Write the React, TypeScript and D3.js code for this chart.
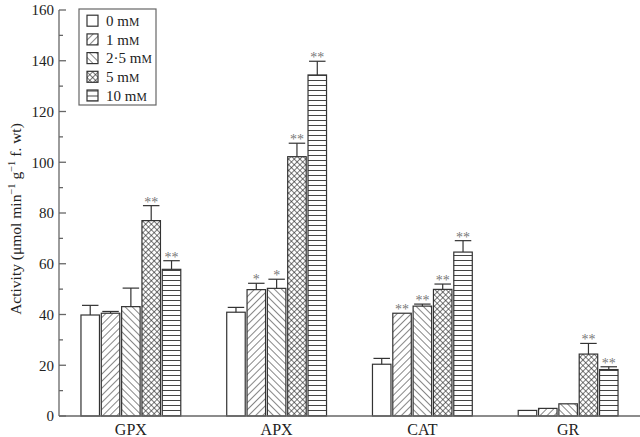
import * as d3 from "d3";

const width = 640;
const height = 437;
const marginTop = 10;
const marginBottom = 21;
const marginLeft = 59;

const enzymes = ["GPX", "APX", "CAT", "GR"];
const doses = ["0", "1", "2·5", "5", "10"];
const patterns = ["none", "fwd", "back", "cross", "horiz"];

// mean activity per dose, one entry per enzyme
const dose0 = [39.8, 40.9, 20.4, 2.2];
const dose1 = [40.5, 49.8, 40.5, 3.0];
const dose25 = [43.1, 50.3, 43.3, 4.8];
const dose5 = [77.0, 102.2, 49.9, 24.4];
const dose10 = [57.8, 134.4, 64.6, 18.3];

// upper end of error bars
const err0 = [43.6, 42.8, 22.7, 2.2];
const err1 = [41.2, 52.3, 40.7, 3.2];
const err25 = [50.4, 53.9, 44.1, 4.9];
const err5 = [82.9, 107.5, 52.0, 28.6];
const err10 = [61.2, 139.8, 69.1, 19.4];

// significance marks
const sig0 = ["", "", "", ""];
const sig1 = ["", "*", "**", ""];
const sig25 = ["", "*", "**", ""];
const sig5 = ["**", "**", "**", "**"];
const sig10 = ["**", "**", "**", "**"];

const yTicks = [0, 20, 40, 60, 80, 100, 120, 140, 160];
const yMinorTicks = [10, 30, 50, 70, 90, 110, 130, 150];

const values = [dose0, dose1, dose25, dose5, dose10];
const errors = [err0, err1, err25, err5, err10];
const sigs = [sig0, sig1, sig25, sig5, sig10];

const font = "'Liberation Serif', 'Times New Roman', serif";
const ink = "#333";
const axisColor = "#666";

const Unit = () => (
  <>
    m<tspan fontSize="0.78em">M</tspan>
  </>
);

const App = () => {
  const chartBottomY = height - marginBottom;

  const x = d3
    .scaleBand()
    .domain(enzymes)
    .range([marginLeft - 1, width + 1])
    .padding(0);

  const xInner = d3
    .scaleBand()
    .domain(doses)
    .range([0, x.bandwidth()])
    .paddingInner(0.09)
    .paddingOuter(1.13);

  const y = d3.scaleLinear().domain([0, 160]).range([chartBottomY, marginTop]);

  const bw = xInner.bandwidth();

  return (
    <div style={{ position: "absolute", left: 0, top: 0 }}>
      <svg width={width} height={height} style={{ display: "block" }} fontFamily={font}>
        <defs>
          <pattern id="fwd" width="5" height="5" patternUnits="userSpaceOnUse" patternTransform="rotate(45)">
            <rect width="5" height="5" fill="#fff" />
            <line x1="0" y1="0" x2="0" y2="5" stroke="#222" strokeWidth="1.1" />
          </pattern>
          <pattern id="back" width="5" height="5" patternUnits="userSpaceOnUse" patternTransform="rotate(-45)">
            <rect width="5" height="5" fill="#fff" />
            <line x1="0" y1="0" x2="0" y2="5" stroke="#222" strokeWidth="1.1" />
          </pattern>
          <pattern id="cross" width="4" height="4" patternUnits="userSpaceOnUse" patternTransform="rotate(45)">
            <rect width="4" height="4" fill="#fff" />
            <line x1="0" y1="0" x2="0" y2="4" stroke="#222" strokeWidth="1.2" />
            <line x1="0" y1="0" x2="4" y2="0" stroke="#222" strokeWidth="1.2" />
          </pattern>
          <pattern id="horiz" width="5" height="5" patternUnits="userSpaceOnUse">
            <rect width="5" height="5" fill="#fff" />
            <line x1="0" y1="0.5" x2="5" y2="0.5" stroke="#444" strokeWidth="1" />
          </pattern>
        </defs>

        {/* bars */}
        {enzymes.map((e, i) => (
          <g key={e} transform={`translate(${x(e)},0)`}>
            {doses.map((d, j) => {
              const bx = xInner(d);
              const v = values[j][i];
              const top = errors[j][i];
              const cx = bx + bw / 2;
              return (
                <g key={d}>
                  <rect
                    x={bx}
                    y={y(v)}
                    width={bw}
                    height={chartBottomY - y(v)}
                    fill={patterns[j] === "none" ? "#fff" : `url(#${patterns[j]})`}
                    stroke={ink}
                    strokeWidth={1.2}
                  />
                  {top > v + 0.3 && (
                    <g stroke={ink} strokeWidth={1.2}>
                      <line x1={cx} x2={cx} y1={y(v)} y2={y(top)} />
                      <line x1={bx + 1} x2={bx + bw - 1} y1={y(top)} y2={y(top)} />
                    </g>
                  )}
                  {sigs[j][i] && (
                    <text x={cx} y={y(top) + 1} textAnchor="middle" fontSize={14} fill="#777">
                      {sigs[j][i]}
                    </text>
                  )}
                </g>
              );
            })}
          </g>
        ))}

        {/* axes */}
        <g stroke={axisColor} strokeWidth={1.3}>
          <line x1={marginLeft} x2={marginLeft} y1={y(160)} y2={chartBottomY} />
          <line x1={marginLeft} x2={width} y1={chartBottomY} y2={chartBottomY} />
          {yTicks.map((t) => (
            <line key={t} x1={marginLeft} x2={marginLeft + 7} y1={y(t)} y2={y(t)} />
          ))}
          {yMinorTicks.map((t) => (
            <line key={t} x1={marginLeft} x2={marginLeft + 4} y1={y(t)} y2={y(t)} />
          ))}
        </g>
        {yTicks.map((t) => (
          <text key={t} x={marginLeft - 5} y={y(t)} dy="0.35em" textAnchor="end" fontSize={15} fill="#222">
            {t}
          </text>
        ))}
        {enzymes.map((e) => (
          <text key={e} x={x(e) + x.bandwidth() / 2} y={height - 2} textAnchor="middle" fontSize={16} fill="#222">
            {e}
          </text>
        ))}
        <text
          transform={`translate(21,${(marginTop + chartBottomY) / 2 + 6}) rotate(-90)`}
          textAnchor="middle"
          fontSize={15.5}
          fill="#222"
        >
          Activity (μmol min
          <tspan dy="-6" fontSize="10.5">−1</tspan>
          <tspan dy="6"> g</tspan>
          <tspan dy="-6" fontSize="10.5">−1</tspan>
          <tspan dy="6"> f. wt)</tspan>
        </text>

        {/* legend */}
        <g transform="translate(79,9)">
          <rect width={77} height={96} fill="#fff" stroke={axisColor} strokeWidth={1.2} />
          {doses.map((d, j) => (
            <g key={d} transform={`translate(8,${11.7 + j * 18.7})`}>
              <rect
                x={0}
                y={-5.5}
                width={11}
                height={11}
                fill={patterns[j] === "none" ? "#fff" : `url(#${patterns[j]})`}
                stroke={ink}
                strokeWidth={1.2}
              />
              <text x={19} y={0} dy="0.35em" fontSize={15} fill="#222">
                {d} <Unit />
              </text>
            </g>
          ))}
        </g>
      </svg>
    </div>
  );
};

export default App;
